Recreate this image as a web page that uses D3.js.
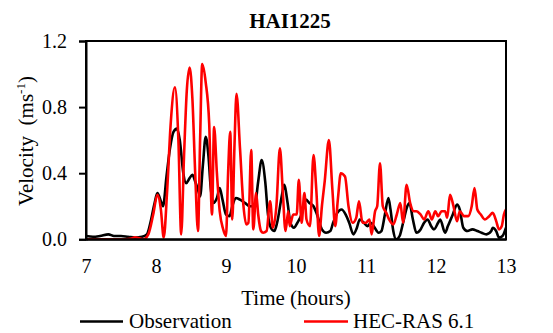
<!DOCTYPE html>
<html><head><meta charset="utf-8">
<script src="https://cdn.jsdelivr.net/npm/d3@7"></script>
<style>body{margin:0;background:#fff}svg{display:block}</style>
</head><body>
<script>
const title = "HAI1225";
const xTicks = [7, 8, 9, 10, 11, 12, 13];
const yTicks = [0, 0.4, 0.8, 1.2];
const seriesNames = ["Observation", "HEC-RAS 6.1"];
const seriesColors = ["#000000", "#ff0000"];

const obsTime = [7.0,7.1,7.2,7.32,7.4,7.5,7.6,7.7,7.8,7.87,7.92,7.98,8.02,8.07,8.10,8.15,8.20,8.25,8.30,8.34,8.39,8.43,8.48,8.52,8.56,8.60,8.63,8.67,8.71,8.75,8.78,8.82,8.87,8.91,8.95,9.00,9.05,9.09,9.14,9.20,9.27,9.34,9.41,9.46,9.51,9.56,9.60,9.64,9.69,9.73,9.80,9.83,9.88,9.92,9.97,10.02,10.08,10.14,10.19,10.25,10.30,10.37,10.43,10.49,10.53,10.59,10.65,10.71,10.76,10.82,10.87,10.91,10.97,11.02,11.07,11.11,11.18,11.22,11.27,11.32,11.35,11.39,11.43,11.48,11.53,11.59,11.62,11.67,11.72,11.78,11.83,11.88,11.93,11.97,12.03,12.06,12.13,12.17,12.24,12.30,12.34,12.39,12.45,12.52,12.59,12.65,12.72,12.79,12.81,12.86,12.90,12.95,13.0];
const obsVel = [0.02,0.015,0.02,0.03,0.02,0.02,0.015,0.01,0.015,0.03,0.10,0.22,0.28,0.23,0.20,0.38,0.55,0.65,0.67,0.60,0.40,0.34,0.37,0.39,0.35,0.30,0.26,0.45,0.62,0.50,0.32,0.22,0.25,0.31,0.24,0.15,0.14,0.20,0.25,0.24,0.22,0.20,0.20,0.35,0.48,0.35,0.15,0.07,0.05,0.10,0.27,0.33,0.22,0.10,0.07,0.10,0.15,0.24,0.22,0.20,0.15,0.06,0.04,0.05,0.10,0.16,0.18,0.15,0.10,0.03,0.07,0.12,0.10,0.08,0.10,0.08,0.04,0.05,0.15,0.25,0.18,0.05,0.00,0.02,0.10,0.20,0.22,0.12,0.04,0.06,0.10,0.12,0.08,0.06,0.10,0.12,0.04,0.08,0.15,0.21,0.18,0.07,0.05,0.06,0.05,0.04,0.03,0.05,0.07,0.05,0.01,0.02,0.07];

const simTime = [7.0,7.2,7.4,7.55,7.65,7.7,7.75,7.82,7.89,7.96,8.02,8.07,8.11,8.16,8.21,8.27,8.32,8.36,8.40,8.44,8.48,8.52,8.56,8.60,8.63,8.66,8.71,8.76,8.80,8.83,8.87,8.91,8.96,9.00,9.03,9.06,9.09,9.12,9.15,9.20,9.25,9.29,9.32,9.36,9.39,9.43,9.46,9.50,9.53,9.58,9.63,9.67,9.72,9.77,9.81,9.85,9.89,9.91,9.96,10.01,10.04,10.08,10.12,10.15,10.20,10.25,10.29,10.33,10.37,10.41,10.47,10.52,10.56,10.60,10.64,10.70,10.75,10.81,10.86,10.90,10.95,11.00,11.05,11.08,11.13,11.16,11.20,11.24,11.29,11.33,11.39,11.44,11.49,11.53,11.58,11.63,11.68,11.72,11.78,11.83,11.89,11.94,11.99,12.03,12.08,12.13,12.16,12.20,12.25,12.30,12.34,12.40,12.46,12.51,12.55,12.59,12.64,12.70,12.76,12.81,12.86,12.90,12.94,12.97,13.0];
const simVel = [0.0,0.0,0.0,0.0,0.005,0.012,0.008,0.0,0.03,0.15,0.27,0.18,0.01,0.30,0.70,0.92,0.60,0.03,0.50,0.90,1.04,0.85,0.40,0.05,0.60,1.06,0.95,0.70,0.15,0.68,0.40,0.17,0.06,0.02,0.40,0.65,0.12,0.55,0.88,0.55,0.20,0.09,0.10,0.54,0.06,0.28,0.15,0.05,0.04,0.05,0.23,0.07,0.20,0.55,0.30,0.05,0.17,0.08,0.15,0.15,0.36,0.10,0.28,0.12,0.08,0.51,0.30,0.02,0.20,0.35,0.60,0.30,0.08,0.25,0.40,0.38,0.20,0.10,0.13,0.23,0.10,0.10,0.12,0.03,0.17,0.20,0.46,0.20,0.16,0.12,0.09,0.15,0.22,0.10,0.33,0.22,0.17,0.17,0.15,0.12,0.17,0.12,0.17,0.14,0.17,0.17,0.13,0.27,0.20,0.11,0.17,0.14,0.14,0.20,0.31,0.18,0.15,0.12,0.14,0.16,0.11,0.06,0.08,0.15,0.18];

const FONT = "'Liberation Serif'";
const W = 553, H = 333;
const m = {left: 86, right: 47, top: 41, bottom: 94};
const svg = d3.select("body").append("svg").attr("width", W).attr("height", H);
const x = d3.scaleLinear().domain([7, 13]).range([m.left, W - m.right]);
const y = d3.scaleLinear().domain([0, 1.2]).range([H - m.bottom + 0.3, m.top]);

svg.append("defs").append("clipPath").attr("id", "clip").append("rect")
  .attr("x", x(7)).attr("y", y(1.2)).attr("width", x(13) - x(7)).attr("height", y(0) - y(1.2));

const line = d3.line().x(d => x(d[0])).y(d => y(d[1])).curve(d3.curveMonotoneX);
const g = svg.append("g").attr("clip-path", "url(#clip)");
g.append("path").datum(obsTime.map((t, i) => [t, obsVel[i]]))
  .attr("d", line).attr("fill", "none").attr("stroke", seriesColors[0]).attr("stroke-width", 2.6);
g.append("path").datum(simTime.map((t, i) => [t, simVel[i]]))
  .attr("d", line).attr("fill", "none").attr("stroke", seriesColors[1]).attr("stroke-width", 2.6);

svg.append("rect").attr("x", x(7)).attr("y", y(1.2)).attr("width", x(13) - x(7)).attr("height", y(0) - y(1.2))
  .attr("fill", "none").attr("stroke", "#000").attr("stroke-width", 2);

const yAxis = d3.axisLeft(y).tickValues(yTicks).tickFormat(d3.format(".1f")).tickSize(7).tickPadding(12);
const ya = svg.append("g").attr("transform", `translate(${x(7)},0)`).call(yAxis);
ya.attr("font-family", null).attr("font-size", null);
ya.select(".domain").attr("stroke-width", 2);
ya.selectAll(".tick line").attr("stroke-width", 2);
ya.selectAll("text").style("font-family", FONT).style("font-size", "20px").attr("fill", "#000");

const xAxis = d3.axisBottom(x).tickValues(xTicks).tickFormat(d3.format("d")).tickSize(0).tickPadding(20);
const xa = svg.append("g").attr("transform", `translate(0,${y(0)})`).call(xAxis);
xa.attr("font-family", null).attr("font-size", null);
xa.select(".domain").attr("stroke-width", 2);
xa.selectAll("text").style("font-family", FONT).style("font-size", "20px").attr("fill", "#000");

svg.append("text").attr("x", 290).attr("y", 28).attr("text-anchor", "middle")
  .style("font-family", FONT).style("font-size", "21px").style("font-weight", "bold").text(title);

svg.append("text").attr("x", 296).attr("y", 305).attr("text-anchor", "middle")
  .style("font-family", FONT).style("font-size", "21px").text("Time (hours)");
const yl = svg.append("text").attr("transform", "translate(33,141) rotate(-90)").attr("text-anchor", "middle")
  .style("font-family", FONT).style("font-size", "21px");
yl.append("tspan").text("Velocity\u00A0\u00A0(ms");
yl.append("tspan").style("font-size", "13px").attr("dy", -8).text("-1");
yl.append("tspan").attr("dy", 8).text(")");

const leg = [{x0: 80, x1: 123, tx: 129}, {x0: 304, x1: 348, tx: 353}];
leg.forEach((l, i) => {
  svg.append("line").attr("x1", l.x0).attr("x2", l.x1).attr("y1", 321.5).attr("y2", 321.5)
    .attr("stroke", seriesColors[i]).attr("stroke-width", 2.6);
  svg.append("text").attr("x", l.tx).attr("y", 328).style("font-family", FONT).style("font-size", "21px").text(seriesNames[i]);
});
</script>
</body></html>
